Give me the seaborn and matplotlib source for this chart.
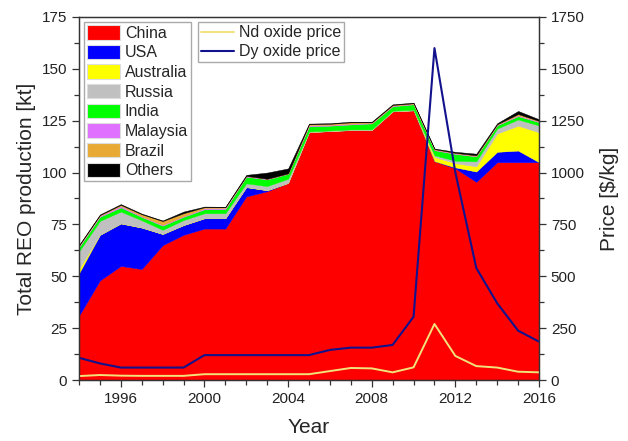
import numpy as np
import pandas as pd
import matplotlib
matplotlib.use("Agg")
import matplotlib.pyplot as plt
from matplotlib.patches import Patch
from matplotlib.lines import Line2D
from matplotlib.ticker import MultipleLocator, FixedLocator
import seaborn as sns

# Rare-earth oxide production by country [kt]
years = list(range(1994, 2017))
china = [31, 48, 55, 53.5, 65, 70, 73, 73, 88.5, 91, 95, 119.5, 120, 120.5, 120.5,
         129.5, 130, 105.5, 102, 95.5, 105, 105, 105]
usa = [20.5, 22, 20.5, 20, 5.4, 4.7, 5, 5, 4.5, 0.5, 0, 0, 0, 0, 0,
       0, 0, 0, 0.5, 5, 5, 5.6, 0]
australia = [2, 0, 0, 0, 0, 0, 0, 0, 0, 0, 0, 0, 0, 0, 0,
             0, 0, 2, 2, 2.5, 8.8, 12, 14.4]
russia = [8.5, 6.7, 5.7, 3.5, 2, 2.4, 2.4, 2.4, 1.8, 2, 2, 0.3, 0.3, 0.3, 0.3,
          0.3, 0.3, 0.8, 1.2, 2.4, 2.4, 3, 3.3]
india = [2, 2, 2, 1.6, 2, 1.6, 1.9, 2, 3.2, 3.2, 2.4, 2.5, 2.3, 2.4, 2.9,
         2.2, 2.6, 2.5, 3.3, 2.4, 1.6, 1.6, 1.6]
malaysia = [0.5, 0.5, 0.7, 0.3, 0.4, 0.3, 0.5, 0.5, 0.4, 0.3, 0.2, 0.5, 0.4, 0.4, 0.2,
            0.3, 0.2, 0.3, 0.3, 0.2, 0.3, 0.4, 0.3]
brazil = [0.3, 0.3, 0.5, 1.0, 1.8, 1.4, 0.5, 0.4, 0, 0, 0, 0.5, 0.5, 0.6, 0.3,
          0.3, 0.3, 0.2, 0.2, 0.3, 0.2, 0.6, 0.3]
others = [0.3, 0.3, 0.4, 0.3, 0.3, 0.8, 0.3, 0.2, 0.5, 3.0, 2.4, 0.3, 0.3, 0.3, 0.3,
          0.3, 0.3, 0.3, 0.5, 0.8, 0.5, 1.5, 0.8]

# Oxide prices [$/kg]
nd_price = [19, 24, 21, 20, 20, 20, 28, 28, 28, 28, 28, 28, 43, 58, 56,
            37, 61, 270, 116, 67, 60, 40, 37]
dy_price = [107, 80, 60, 60, 60, 60, 120, 120, 120, 120, 120, 120, 145, 156, 156,
            169, 305, 1600, 1000, 540, 370, 238, 185]

countries = ["China", "USA", "Australia", "Russia", "India", "Malaysia", "Brazil", "Others"]
country_colors = ["#FF0000", "#0000FF", "#FFFF00", "#C0C0C0", "#00FF00",
                  "#E070FF", "#E8AA35", "#000000"]
nd_color = "#F2E27A"
dy_color = "#12128C"

sns.set_theme(style="ticks")
plt.rcParams["font.family"] = ["Liberation Sans", "DejaVu Sans"]

fig = plt.figure(figsize=(6.28, 4.41), dpi=100)
ax = fig.add_axes([0.1258, 0.1383, 0.7325, 0.8232])

stack = [china, usa, australia, russia, india, malaysia, brazil, others]
ax.stackplot(years, *stack, colors=country_colors, linewidth=0.3,
             edgecolor="face")

ax.set_xlim(1994, 2016)
ax.set_ylim(0, 175)
ax.yaxis.set_major_locator(MultipleLocator(25))
ax.yaxis.set_minor_locator(MultipleLocator(12.5))
ax.xaxis.set_major_locator(FixedLocator([1996, 2000, 2004, 2008, 2012, 2016]))
ax.xaxis.set_minor_locator(MultipleLocator(1))
ax.tick_params(axis="both", which="major", direction="out", length=5, width=0.9,
               labelsize=11, colors="#333333", labelcolor="#222222")
ax.tick_params(axis="both", which="minor", direction="out", length=3.5, width=0.9,
               colors="#333333")
ax.set_xlabel("Year", fontsize=15, labelpad=9)
ax.set_ylabel("Total REO production [kt]", fontsize=15, labelpad=4)

# Price axis
ax2 = ax.twinx()
prices = pd.DataFrame({"Year": years, "Nd": nd_price, "Dy": dy_price})
sns.lineplot(data=prices, x="Year", y="Nd", ax=ax2, color=nd_color, linewidth=1.4)
sns.lineplot(data=prices, x="Year", y="Dy", ax=ax2, color=dy_color, linewidth=1.5)
ax2.set_ylim(0, 1750)
ax2.set_xlim(1994, 2016)
ax2.yaxis.set_major_locator(MultipleLocator(250))
ax2.yaxis.set_minor_locator(MultipleLocator(125))
ax2.tick_params(axis="y", which="major", direction="out", length=5, width=0.9,
                labelsize=11, colors="#333333", labelcolor="#222222")
ax2.tick_params(axis="y", which="minor", direction="out", length=3.5, width=0.9,
                colors="#333333")
ax2.set_ylabel("Price [$/kg]", fontsize=15, labelpad=11)
ax2.set_xlabel("")

for a in (ax, ax2):
    for s in a.spines.values():
        s.set_color("#333333")
        s.set_linewidth(0.9)

country_handles = [Patch(facecolor=c, edgecolor="#DDDDDD", linewidth=0.8, label=n)
                   for n, c in zip(countries, country_colors)]
leg1 = ax2.legend(handles=country_handles, loc="upper left",
                  bbox_to_anchor=(0.011, 0.986), borderaxespad=0,
                  fontsize=11.5, fancybox=False, framealpha=1,
                  edgecolor="#AAAAAA", handlelength=2.05, handleheight=1.0,
                  labelspacing=0.25, handletextpad=0.3, borderpad=0.2)
ax2.add_artist(leg1)

price_handles = [Line2D([], [], color=nd_color, linewidth=1.4, label="Nd oxide price"),
                 Line2D([], [], color=dy_color, linewidth=1.5, label="Dy oxide price")]
ax2.legend(handles=price_handles, loc="upper left",
           bbox_to_anchor=(0.259, 0.986), borderaxespad=0,
           fontsize=11.5, fancybox=False, framealpha=1, edgecolor="#AAAAAA",
           handlelength=2.05, labelspacing=0.25, handletextpad=0.3,
           borderpad=0.2)

fig.savefig("out.png", dpi=100)
